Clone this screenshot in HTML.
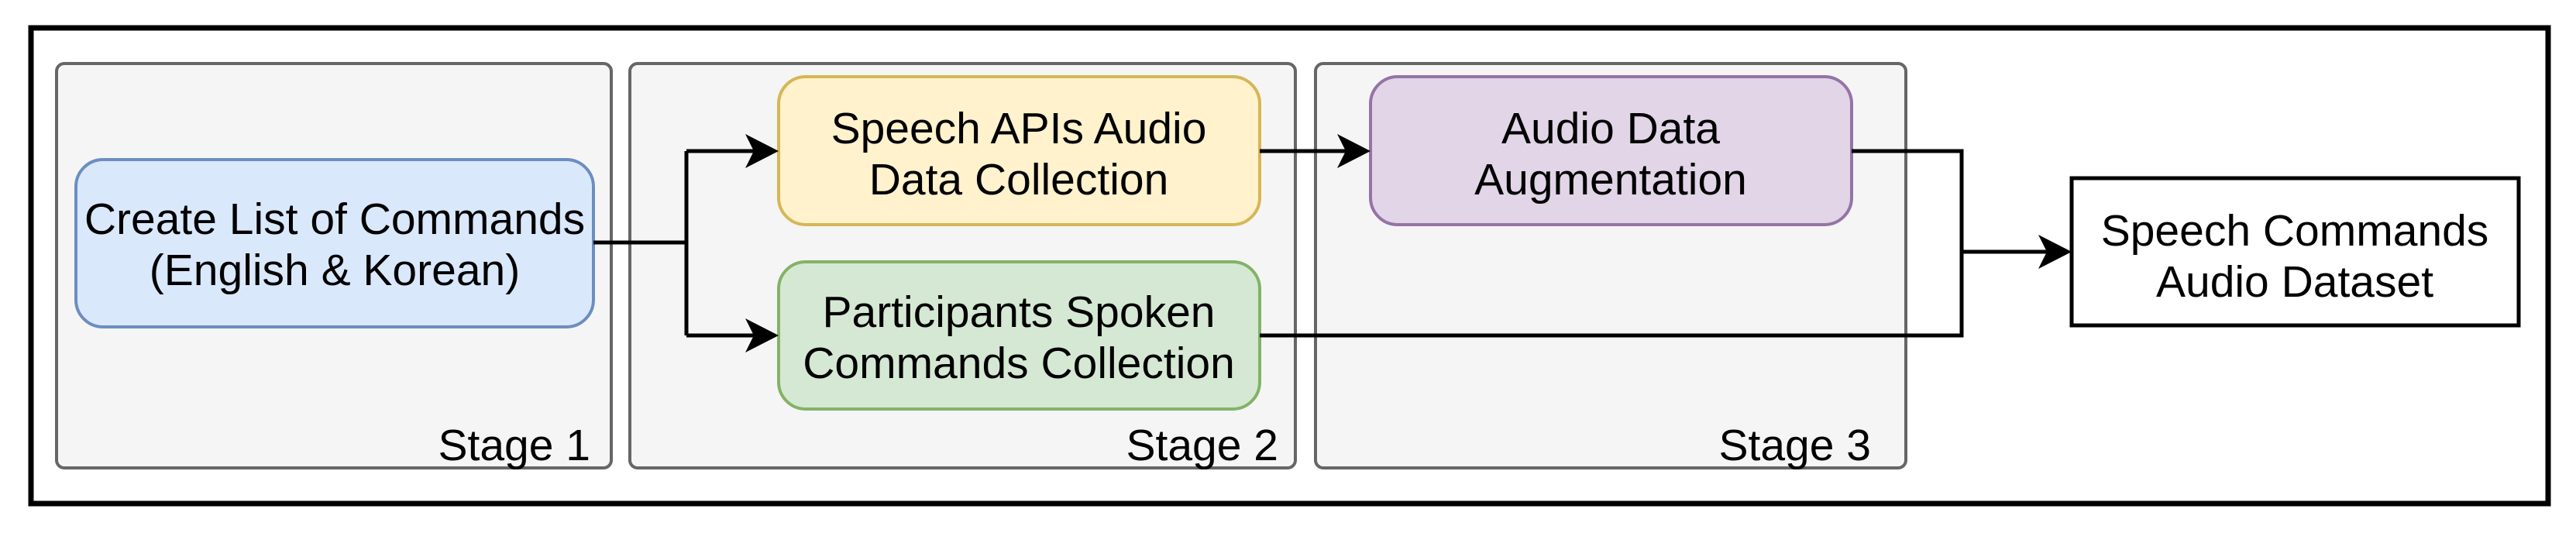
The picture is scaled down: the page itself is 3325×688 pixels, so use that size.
<!DOCTYPE html>
<html><head><style>
body{margin:0;background:#fff}
</style></head><body>
<svg width="3325" height="683" viewBox="0 0 3325 683" xmlns="http://www.w3.org/2000/svg" font-family="Liberation Sans, sans-serif">
<rect x="40" y="36" width="3249" height="614" fill="#fff" stroke="#000" stroke-width="7"/>
<g fill="#f5f5f5" stroke="#666" stroke-width="4">
<rect x="73" y="82" width="716" height="522" rx="10"/>
<rect x="813" y="82" width="859" height="522" rx="10"/>
<rect x="1698" y="82" width="762" height="522" rx="10"/>
</g>
<rect x="98" y="206" width="668" height="216" rx="35" fill="#dae8fc" stroke="#6c8ebf" stroke-width="4"/>
<rect x="1005" y="99" width="621" height="191" rx="35" fill="#fff2cc" stroke="#d6b656" stroke-width="4"/>
<rect x="1005" y="338" width="621" height="190" rx="35" fill="#d5e8d4" stroke="#82b366" stroke-width="4"/>
<rect x="1769" y="99" width="621" height="191" rx="35" fill="#e1d5e7" stroke="#9673a6" stroke-width="4"/>
<rect x="2674" y="230" width="577" height="190" fill="#fff" stroke="#000" stroke-width="5"/>
<g stroke="#000" stroke-width="5" fill="none">
<polyline points="766,313 886,313"/>
<polyline points="886,195 886,433"/>
<polyline points="886,195 985,195"/>
<polyline points="886,433 985,433"/>
<polyline points="1626,195 1750,195"/>
<polyline points="2390,195 2532,195 2532,433 1626,433"/>
<polyline points="2532,325 2655,325"/>
</g>
<g fill="#000">
<polygon points="1005,195 962,173 973,195 962,217"/>
<polygon points="1005,433 962,411 973,433 962,455"/>
<polygon points="1769,195 1726,173 1737,195 1726,217"/>
<polygon points="2674,325 2631,303 2642,325 2631,347"/>
</g>
<g font-size="57" text-anchor="middle" fill="#000">
<text x="432" y="302">Create List of Commands</text>
<text x="432" y="368">(English &amp; Korean)</text>
<text x="1315" y="185">Speech APIs Audio</text>
<text x="1315" y="251">Data Collection</text>
<text x="1315" y="422">Participants Spoken</text>
<text x="1315" y="488">Commands Collection</text>
<text x="2079" y="185">Audio Data</text>
<text x="2079" y="251">Augmentation</text>
<text x="2962" y="317">Speech Commands</text>
<text x="2962" y="383">Audio Dataset</text>
</g>
<g font-size="57" text-anchor="end" fill="#000">
<text x="762" y="594">Stage 1</text>
<text x="1650" y="594">Stage 2</text>
<text x="2415" y="594">Stage 3</text>
</g>
</svg>
</body></html>
